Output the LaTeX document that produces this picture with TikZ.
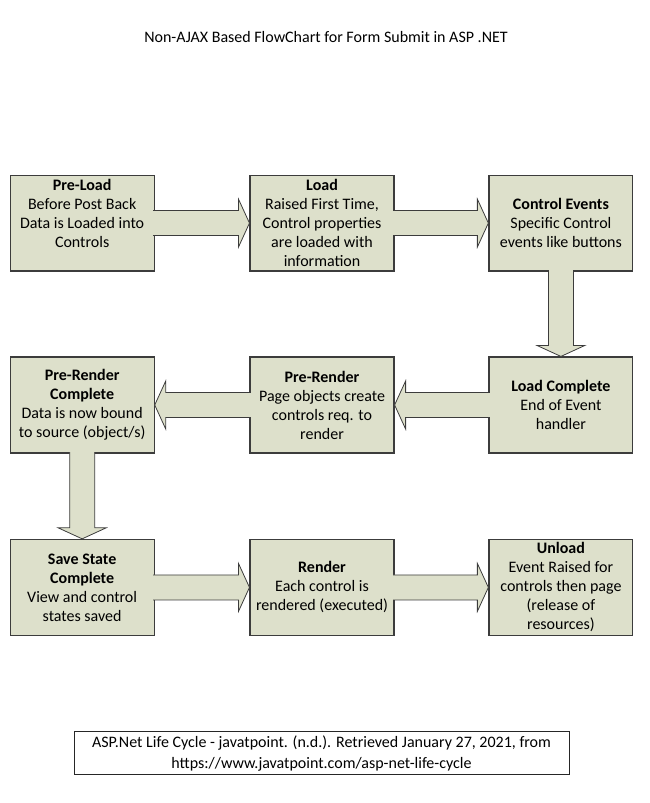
\documentclass[tikz,border=0pt]{standalone}
\usepackage{fontspec}
\setmainfont{Carlito}
\usetikzlibrary{calc}

\definecolor{stagefill}{RGB}{221,224,203}
\definecolor{stageline}{RGB}{60,60,60}

\begin{document}
\begin{tikzpicture}[x=1pt,y=-1pt,
		stage/.style={draw=stageline, line width=1.2pt, fill=stagefill, minimum width=144pt, minimum height=96pt, align=center, inner sep=2pt, font=\fontsize{16}{19}\selectfont},
		arrowbody/.style={fill=stagefill},
		arrowline/.style={draw=stageline, line width=0.8pt, line join=miter},
		caption/.style={draw=black!85, line width=0.8pt, minimum width=495pt, minimum height=43pt, align=center, font=\fontsize{16}{21}\selectfont}]
		\draw[use as bounding box, transparent] (0,0) rectangle (649,803);

		% Define the macro.
		% 1st argument: Anchor where the arrow leaves a stage.
		% 2nd argument: Anchor where the arrow tip touches the next stage.
		\newcommand{\stageArrow}[2]{
			\coordinate (s) at ($(#1)!-1.5pt!(#2)$); % Start slightly inside the box to hide its border.
			\coordinate (t) at (#2);                  % Tip.
			\coordinate (h) at ($(t)!11pt!(s)$);      % Base of the head.

			% Fill the arrow body.
			\fill[arrowbody] ($(s)!12.5pt!90:(t)$) -- ($(h)!12.5pt!-90:(s)$) -- ($(h)!24pt!-90:(s)$) -- (t)
				-- ($(h)!24pt!90:(s)$) -- ($(h)!12.5pt!90:(s)$) -- ($(s)!12.5pt!-90:(t)$) -- cycle;
			% Outline without the edge at the start.
			\draw[arrowline] ($(s)!12.5pt!90:(t)$) -- ($(h)!12.5pt!-90:(s)$) -- ($(h)!24pt!-90:(s)$) -- (t)
				-- ($(h)!24pt!90:(s)$) -- ($(h)!12.5pt!90:(s)$) -- ($(s)!12.5pt!-90:(t)$);
		}

		% TITLE
		\node[font=\fontsize{16}{18}\selectfont] (title) at (326,37) {Non-AJAX Based FlowChart for Form Submit in ASP .NET};

		% ROW 1
		\node[stage] (preload) at (82,223) {\textbf{Pre-Load}\\Before Post Back\\Data is Loaded into\\Controls\\\mbox{}};
		\node[stage] (load) at (322,223) {\textbf{Load}\\Raised First Time,\\Control properties\\are loaded with\\information};
		\node[stage] (events) at (561,223) {\textbf{Control Events}\\Specific Control\\events like buttons};

		% ROW 2
		\node[stage] (loadcomplete) at (561,405) {\textbf{Load Complete}\\End of Event\\handler};
		\node[stage] (prerender) at (322,405) {\textbf{Pre-Render}\\Page objects create\\controls req. to\\render};
		\node[stage] (prerendercomplete) at (82,405) {\textbf{Pre-Render}\\\textbf{Complete}\\Data is now bound\\to source (object/s)};

		% ROW 3
		\node[stage] (savestate) at (82,587.5) {\textbf{Save State}\\\textbf{Complete}\\View and control\\states saved};
		\node[stage] (render) at (322,587.5) {\textbf{Render}\\Each control is\\rendered (executed)};
		\node[stage] (unload) at (561,587.5) {\textbf{Unload}\\Event Raised for\\controls then page\\(release of\\resources)};

		% ARROWS
		\stageArrow{preload.east}{load.west}
		\stageArrow{load.east}{events.west}
		\stageArrow{events.south}{loadcomplete.north}
		\stageArrow{loadcomplete.west}{prerender.east}
		\stageArrow{prerender.west}{prerendercomplete.east}
		\stageArrow{prerendercomplete.south}{savestate.north}
		\stageArrow{savestate.east}{render.west}
		\stageArrow{render.east}{unload.west}

		% SOURCE
		\node[caption] (source) at (321.5,753.5) {ASP.Net Life Cycle - javatpoint. (n.d.). Retrieved January 27, 2021, from\\https://www.javatpoint.com/asp-net-life-cycle};
	\end{tikzpicture}
\end{document}
